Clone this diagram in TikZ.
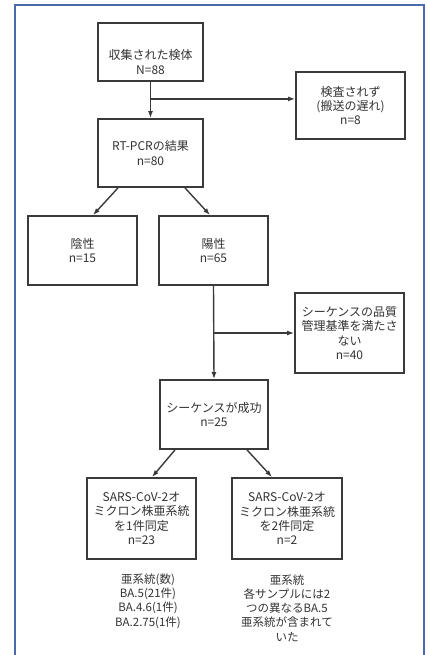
\documentclass[tikz,border=0pt]{standalone}
\usepackage{fontspec}
\setmainfont{Noto Sans CJK JP}
\usetikzlibrary{arrows.meta,calc}
\definecolor{frameblue}{HTML}{4A6AAB}
\definecolor{boxline}{HTML}{3A3A3A}
\definecolor{txt}{HTML}{333333}
\begin{document}
\begin{tikzpicture}[x=1pt,y=-1pt,
  box/.style={draw=boxline,line width=1.8pt,fill=white,align=center,text=txt,
    font=\fontsize{12}{14.3}\selectfont,inner sep=0pt},
  plain/.style={align=center,text=txt,font=\fontsize{11.5}{14.2}\selectfont},
  arr/.style={draw=boxline,line width=1.4pt,-{Latex[length=7pt,width=5pt]}},
  ln/.style={draw=boxline,line width=1.4pt}]
\useasboundingbox (0,0) rectangle (430,655);
\fill[white] (0,0) rectangle (430,655);
\draw[frameblue,line width=2pt] (15,660) -- (15,5) -- (424,5) -- (424,660);

\node[box,minimum width=105pt,minimum height=58pt,
  label={[align=center,text=txt,font=\fontsize{12}{14.3}\selectfont,yshift=-10pt]center:収集された検体\\N=88}] (b1) at (150.5,52) {};
\node[box,minimum width=109pt,minimum height=67pt] (b2) at (350.5,105.5) {検査されず\\(搬送の遅れ)\\n=8};
\node[box,minimum width=105pt,minimum height=68pt] (b3) at (150.5,153) {RT-PCRの結果\\n=80};
\node[box,minimum width=109pt,minimum height=69pt] (b4) at (82.5,250.5) {陰性\\n=15};
\node[box,minimum width=109pt,minimum height=69pt] (b5) at (213.5,250.5) {陽性\\n=65};
\node[box,minimum width=109pt,minimum height=80pt] (b6) at (349.5,333) {シーケンスの品質\\管理基準を満たさ\\ない\\n=40};
\node[box,minimum width=108pt,minimum height=69pt] (b7) at (214,414.5) {シーケンスが成功\\n=25};
\node[box,minimum width=109pt,minimum height=81pt] (b8) at (141.5,518.5) {SARS-CoV-2オ\\ミクロン株亜系統\\を1件同定\\n=23};
\node[box,minimum width=110pt,minimum height=81pt] (b9) at (287,518.5) {SARS-CoV-2オ\\ミクロン株亜系統\\を2件同定\\n=2};
\node[plain] (t1) at (148,601) {亜系統(数)\\BA.5(21件)\\BA.4.6(1件)\\BA.2.75(1件)};
\node[plain] (t2) at (287,608) {亜系統\\各サンプルには2\\つの異なるBA.5\\亜系統が含まれて\\いた};

\coordinate (j1) at ($(b1.south)!0.47!(b3.north)$);
\draw[arr] (b1.south) -- (b3.north);
\draw[arr] (j1) -- (j1 -| b2.west);
\draw[arr] ([xshift=-32.5pt]b3.south) -- ([xshift=10.5pt]b4.north);
\draw[arr] ([xshift=34.5pt]b3.south) -- ([xshift=-3.5pt]b5.north);
\coordinate (j2) at (b5.south |- b6.west);
\draw[arr] (b5.south) -- (b7.north);
\draw[arr] (j2) -- (b6.west);
\draw[arr] ([xshift=-39pt]b7.south) -- ([xshift=10.5pt]b8.north);
\draw[arr] ([xshift=33pt]b7.south) -- ([xshift=-15pt]b9.north);
\end{tikzpicture}
\end{document}
